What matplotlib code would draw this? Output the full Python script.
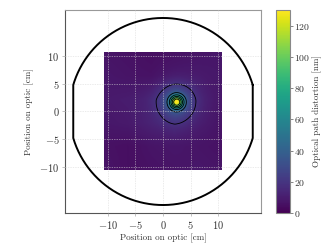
import numpy as np
import matplotlib
matplotlib.use("Agg")
import matplotlib.pyplot as plt

plt.rcParams['font.family'] = 'serif'
plt.rcParams['font.serif'] = ['cmr10', 'DejaVu Serif']
plt.rcParams['mathtext.fontset'] = 'cm'
plt.rcParams['axes.formatter.use_mathtext'] = True
plt.rcParams['font.size'] = 6.5

# --- data ---
map_extent = 10.7            # half-size of measured map [cm]
bg_grid = np.array([         # coarse background distortion [nm]
    [7, 6, 5, 6, 7, 8],
    [8, 7, 6, 8, 9, 8],
    [9, 10, 12, 15, 11, 8],
    [8, 9, 12, 14, 10, 7],
    [6, 5, 7, 8, 7, 6],
    [7, 5, 6, 7, 8, 7],
])
peak_center = (2.5, 1.7)     # [cm]
peak_amp = 95.0              # [nm]
peak_sigma = 0.8             # [cm]
halo_amp = 24.0
halo_sigma = 2.3
contour_levels = [19, 40, 58, 76, 94, 112]
optic_radius = 17.0
flat_half_width = 16.3
x_ticks = [-10, -5, 0, 5, 10]
y_ticks = [-10, -5, 0, 5, 10]
cbar_ticks = [0, 20, 40, 60, 80, 100, 120]
vmax = 130

# build map (row 0 = bottom)
n = 120
xs = np.linspace(-map_extent, map_extent, n)
X, Y = np.meshgrid(xs, xs)
gy = np.linspace(-map_extent, map_extent, bg_grid.shape[0])
gx = np.linspace(-map_extent, map_extent, bg_grid.shape[1])
tmp = np.array([np.interp(xs, gx, row) for row in bg_grid[::-1]])
bg = np.array([np.interp(xs, gy, tmp[:, j]) for j in range(n)]).T
R2 = (X - peak_center[0])**2 + (Y - peak_center[1])**2
Z = bg + peak_amp * np.exp(-R2 / (2 * peak_sigma**2)) + halo_amp * np.exp(-R2 / (2 * halo_sigma**2))

fig = plt.figure(figsize=(3.32, 2.49), dpi=100)
ax = fig.add_axes([65/332, 1 - 213/249, 196/332, 203/249])
im = ax.imshow(Z, origin='lower', extent=[-map_extent, map_extent, -map_extent, map_extent],
               cmap='viridis', vmin=0, vmax=vmax, interpolation='bilinear', zorder=1)
ax.contour(X, Y, Z, levels=contour_levels, colors='black', linewidths=0.6, zorder=2)

# optic outline: circle with two side flats
theta_f = np.arccos(flat_half_width / optic_radius)
t1 = np.linspace(theta_f, np.pi - theta_f, 200)
t2 = np.linspace(np.pi + theta_f, 2 * np.pi - theta_f, 200)
ox = np.concatenate([optic_radius * np.cos(t1), optic_radius * np.cos(t2), [optic_radius * np.cos(t1[0])]])
oy = np.concatenate([optic_radius * np.sin(t1), optic_radius * np.sin(t2), [optic_radius * np.sin(t1[0])]])
ax.plot(ox, oy, color='black', lw=1.4, zorder=3)

ax.set_xlim(-17.8, 17.8)
ax.set_ylim(-18.45, 18.45)
ax.set_aspect('auto')
ax.set_xticks(x_ticks)
ax.set_yticks(y_ticks)
ax.tick_params(length=2, width=0.5, color='#aaaaaa', pad=2, labelsize=7.5, labelcolor='#333333')
ax.grid(True, color='#d8d8d8', linestyle=(0, (2, 1.5)), linewidth=0.5, alpha=0.7, zorder=4)
ax.set_axisbelow(False)
for s in ['left', 'bottom']:
    ax.spines[s].set_color('#555555')
for s in ['top', 'right']:
    ax.spines[s].set_color('#999999')
ax.set_xlabel('Position on optic [cm]', labelpad=2, color='#333333')
ax.set_ylabel('Position on optic [cm]', labelpad=4, color='#333333')

cax = fig.add_axes([276/332, 1 - 213/249, 14/332, 203/249])
cb = fig.colorbar(im, cax=cax, ticks=cbar_ticks)
cb.outline.set_edgecolor('#888888')
cb.ax.tick_params(length=2, width=0.5, color='#555555', labelsize=7, labelcolor='#333333', pad=1)
cb.set_label('Optical path distortion [nm]', color='#333333', labelpad=2)

fig.savefig('out.png', dpi=100)
